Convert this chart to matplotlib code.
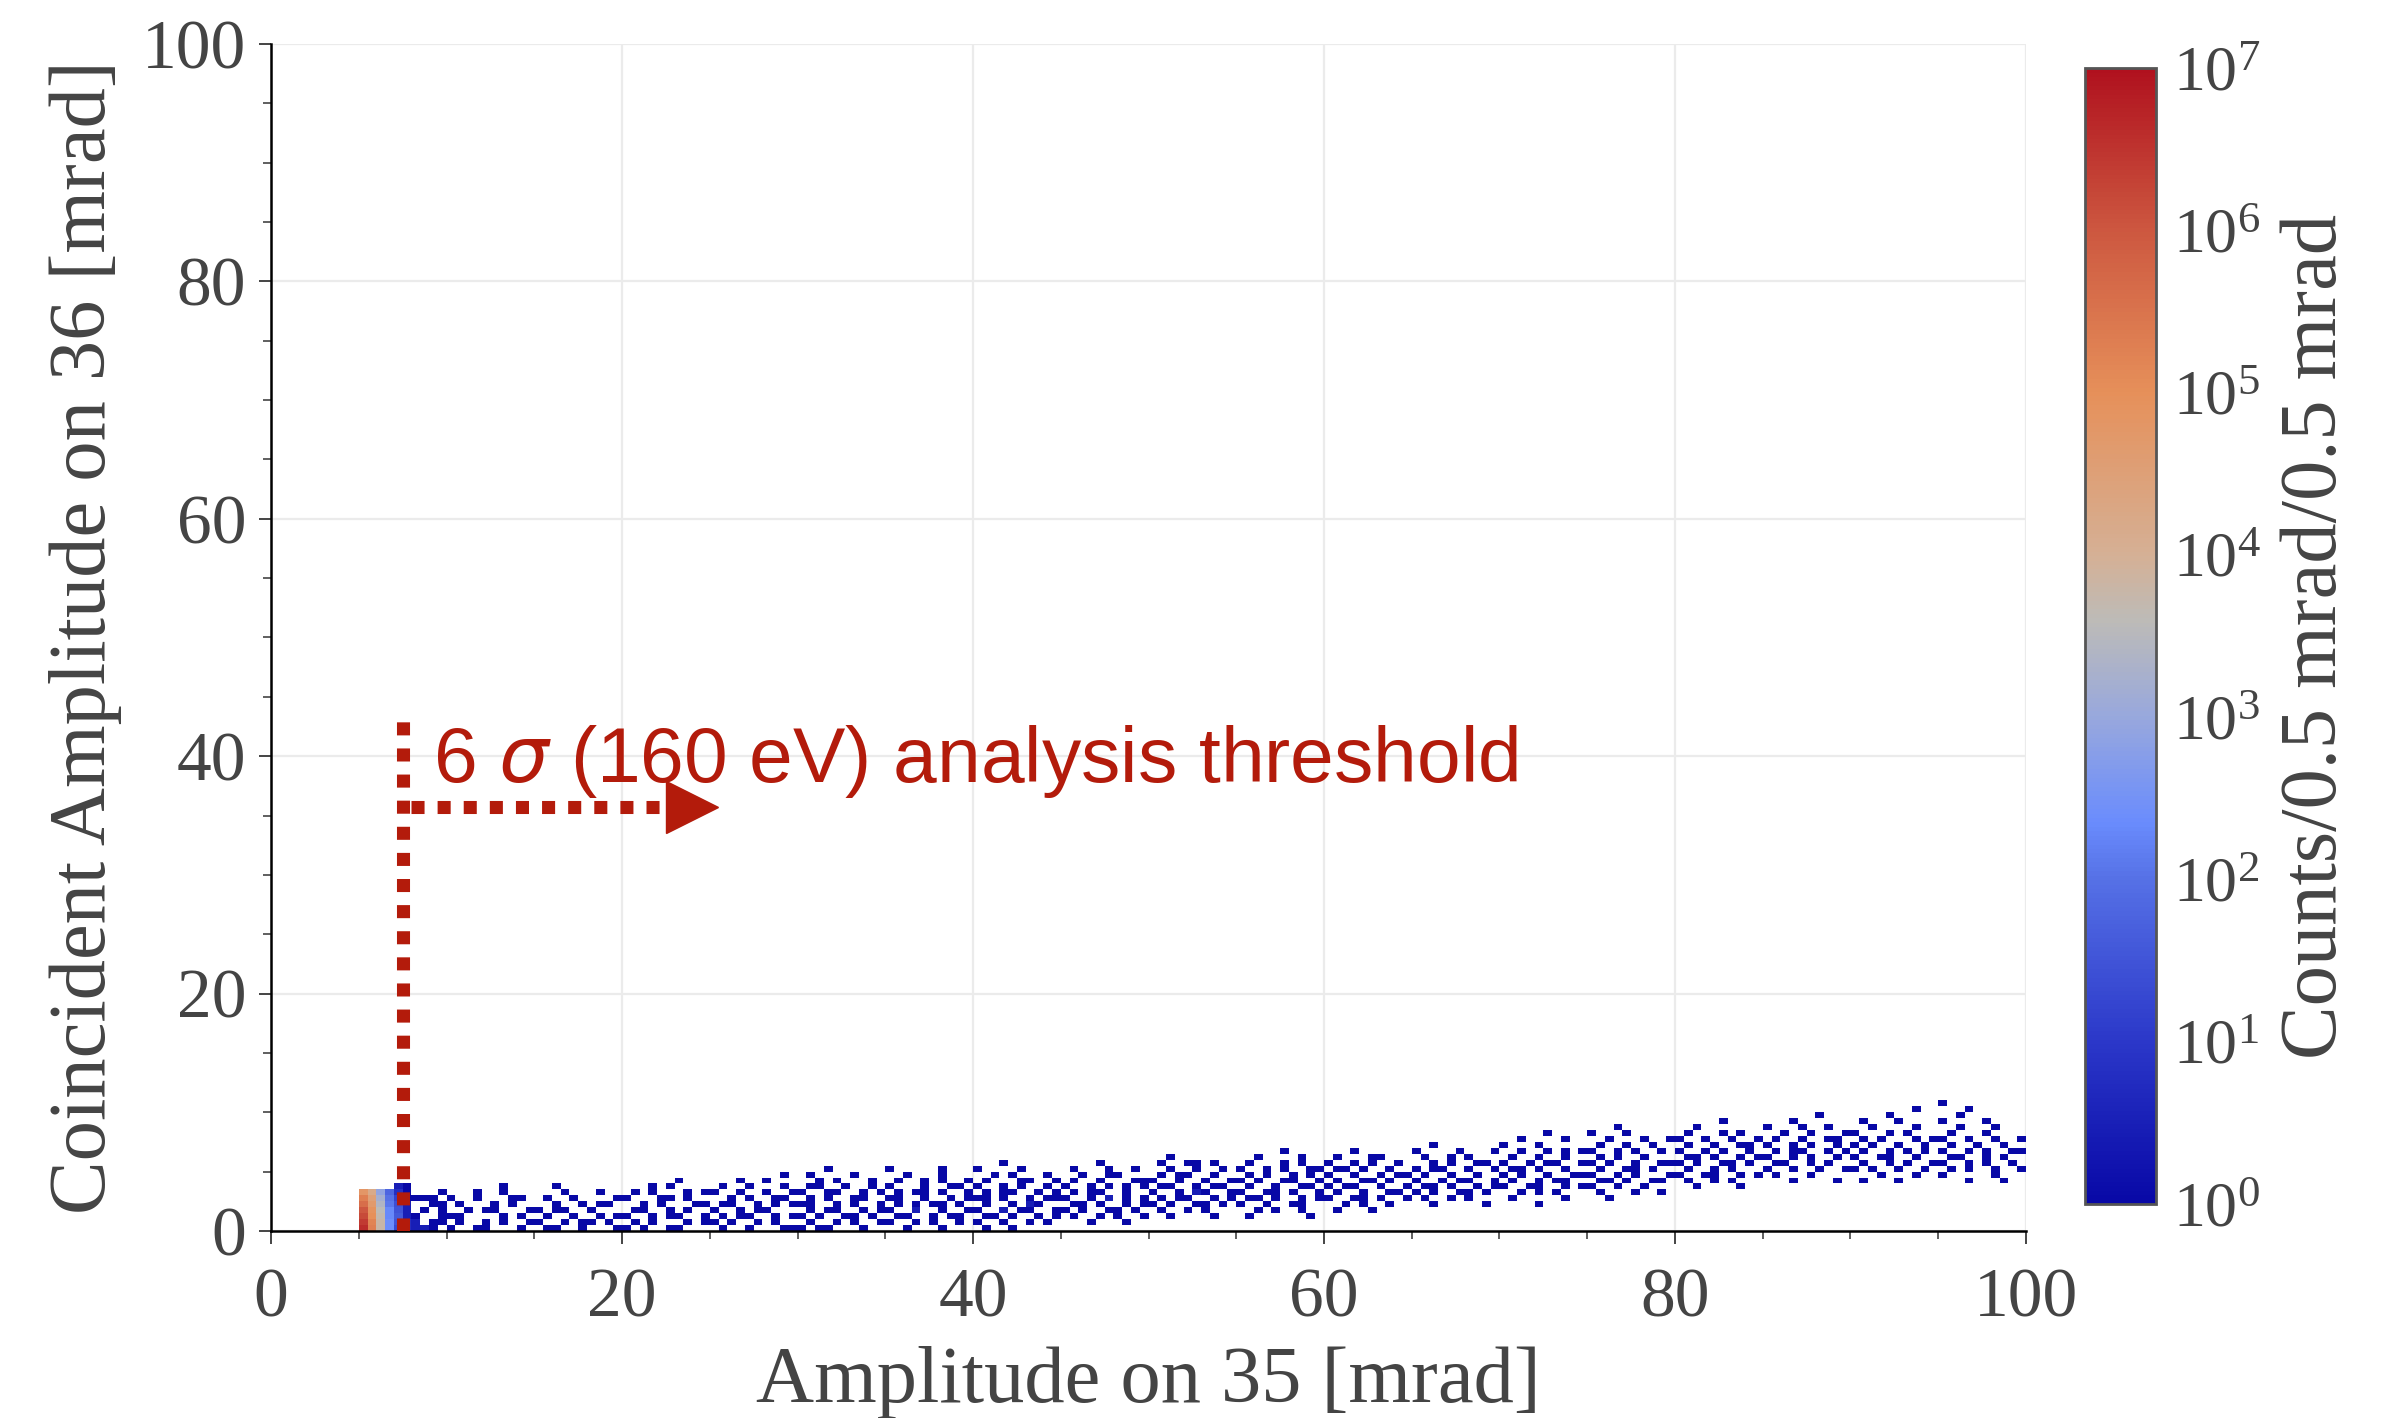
import numpy as np
import matplotlib
matplotlib.use("Agg")
import matplotlib.pyplot as plt
from matplotlib.colors import LinearSegmentedColormap, LogNorm
from matplotlib.ticker import MultipleLocator

# bin width 0.5 mrad on both axes
bin_w = 0.5

# hottest columns near threshold: x bin starts and log10(counts) for y bins 0..6
hot_x = [5.0, 5.5, 6.0, 6.5, 7.0]
hot_log = [
    [6.6, 6.4, 6.2, 6.0, 5.6, 5.3, 4.8],
    [5.3, 5.2, 5.0, 4.9, 4.7, 4.5, 4.2],
    [3.8, 3.8, 3.7, 3.6, 3.4, 3.2, 2.9],
    [2.4, 2.4, 2.3, 2.3, 2.1, 2.0, 1.8],
    [1.3, 1.5, 1.6, 1.5, 1.4, 1.2, 0.8],
]

# band of sparse counts, 19 chunks of 5 mrad starting at x=5
# each chunk: lowest y bin, then rows bottom->top ('.' empty, '1'=1, '2'=3, '3'=6 counts)
band_x0 = 5.0
band_lo = [0, 0, 0, 0, 0, 0, 0, 0, 1, 2, 2, 3, 4, 4, 5, 7, 8, 8, 8]
band_rows = [
    ".....3221./.....32.11/.....21..1/.....2.1.1/.....2..11/.....1111./.....1...1/.....1....",
    "1..11...1./.1..1.1..1/11....1.1./..1.11...1/.1...1.1../1..1...11./...1..1.../......1...",
    ".11..1...1/1..1.11.1./.1..1..1.1/1.11..1.../..1..1.11./.1..1....1/...1...1../..1.......",
    "1.1..11.../.1.1...1.1/1..1.11..1/.11..1.1../..1.1...11/1...11.1../.1.1...1.1/...1.1..../......1...",
    ".1..1...11/1.1..1.1../.1.11..1.1/1..1.11.../.11..1.1.1/..1.1..11./1..1..1..1/.1..1...1./...1..1.../........1.",
    "1.11...1../.1..1.1..1/1.1..11.1./.1.11..1.1/11..1.1..1/.1.1..11../1..11..1.1/.11..1..1./..1.1...1./.1....1.../...1......",
    "..1...1.../1..1.1..1./.11..1.11./1..2..1..1/.1.1.11.1./11..1..1.1/.1.11.1..1/1...1..11./.1..1.1..1/..1...1.../1.....1...",
    ".1..1...../1..1..1.1./.11.1..1.1/1..2.11..1/.1..1.21../11.1..1.11/.1.11..1.1/1..1.1..1./.1...11..1/..1.1...1./1....1..../...1......",
    "...1...1../.1..1.1..1/1.1..11.1./.11.1..1.1/1..1.2.1.1/.1.11..1../1..1.1.1.1/.1..1...11/..1..11.../.1...1..1./....1.....",
    "..1....1../.1..1.1.../1.1..11.1./.1.11..1.1/1..1.21..1/.11..1.11./1..1..1..1/.1.11..1../..1..1..1./.1..11.1../..1.......",
    ".1......1./..1.1..1../1..1..11../.11.1..1.1/1..11.1..1/.1..1..11./1.1..11..1/.1.1..1.1./1..1.1..11/.1...1.1../..1....1../.....1....",
    ".1...1..../..1.1..1../1..11.1..1/.1..1..11./1.11..1..1/.1..11.1../1..1..1.11/.11.1..1../1..1.1..1./.1...11.../...1......",
    "..1.....1./.1..1.1.../1.1..11.1./.11.1..1.1/1..1.11..1/.1..1..1../1.11..1..1/..1.1..11./.1..1.1.../1....1...1/..1.......",
    "....1...../.1.....1../..1.1.1.../1..11..1.1/.1..1.11../1.1..1..11/.11.1..1../1..1.11..1/.1..1..1../..1..1.1.1/1...1...../..1....1../.....1....",
    "..1......./.1...1..1./1..1..1.../.11.1..11./1..1.1...1/.1..11.1../1.1..1..11/.1.1..1.../1..1.1..1./.1..1..1../..1...1..1/1...1...../...1......",
    "..1....1../.1..1.1.../1..11..1.1/.1..1.1.../1.1..11.1./.11.1..1.1/1..1.1..1./.1..1..11./1..1..1..1/.1...1.1../..1......./.....1....",
    "...1....1./.1...1..../1..1..1..1/.11..1.1../1..1.1..1./.1.11..1.1/1..1.1..1./.1..1..11./..1..1...1/1...1..1../...1....../......1...",
    ".1...1..../...1...1../1.1..1..1./.1..1.1..1/1..11..1../.1..1.1.1./1.1..1..1./.1.1...1.1/1...1.1.../..1....1../.1...1..../....1...../.......1..",
    "...1...1../1.....1.../.1.1..1..1/1..1.1..1./.11..1.1../1..1.1..11/.1..1..1../1..1..1..1/.1...1..../..1...1.../1....1..../..1......./...1....../1.........",
]

x_label = "Amplitude on 35 [mrad]"
y_label = "Coincident Amplitude on 36 [mrad]"
cbar_label = "Counts/0.5 mrad/0.5 mrad"
threshold_x = 7.5
threshold_text = "6 $\\sigma$ (160 eV) analysis threshold"

# colours along the log colour scale (fraction of 10^0..10^7)
cmap_pos = [0.0, 1 / 7, 2 / 7, 2.35 / 7, 3 / 7, 3.6 / 7, 4 / 7, 5 / 7, 6 / 7, 1.0]
cmap_col = ["#0808a6", "#2b38c9", "#5671e6", "#6a8cfd", "#98a8dd",
            "#bdbbb7", "#d5b095", "#e6905a", "#cd5840", "#b0111e"]
red = "#b31b0b"
grey = "#444444"

plt.rcParams["font.family"] = ["Liberation Serif", "DejaVu Serif"]
plt.rcParams["mathtext.fontset"] = "custom"
plt.rcParams["mathtext.rm"] = "Liberation Serif"

# ---- build the 2D histogram
edges = np.arange(0, 100 + bin_w / 2, bin_w)
n = len(edges) - 1
H = np.zeros((n, n))
char_val = {"1": 1, "2": 3, "3": 6}
for k, (lo, block) in enumerate(zip(band_lo, band_rows)):
    for r, row in enumerate(block.split("/")):
        for c, ch in enumerate(row):
            if ch in char_val:
                xi = int(round((band_x0 + 5 * k) / bin_w)) + c
                H[xi, lo + r] = char_val[ch]
for xv, logs in zip(hot_x, hot_log):
    xi = int(round(xv / bin_w))
    for yi, lv in enumerate(logs):
        H[xi, yi] = 10 ** lv
H[int(round(7.0 / bin_w)), 7] = 3

Hm = np.ma.masked_where(H <= 0, H)
cmap = LinearSegmentedColormap.from_list("cw", list(zip(cmap_pos, cmap_col)))

fig = plt.figure(figsize=(24.01, 14.18), dpi=100)
ax = fig.add_axes([0.1129, 0.1319, 0.8438 - 0.1129, 0.969 - 0.1319])
cax = fig.add_axes([0.8684, 0.1509, 0.0296, 0.952 - 0.1509])

ax.grid(True, color="#ebebeb", lw=1.6, zorder=0)
ax.set_axisbelow(True)
mesh = ax.pcolormesh(edges, edges, Hm.T, cmap=cmap, norm=LogNorm(1, 1e7), zorder=1)

ax.set_xlim(0, 100)
ax.set_ylim(0, 100)
ax.xaxis.set_major_locator(MultipleLocator(20))
ax.yaxis.set_major_locator(MultipleLocator(20))
ax.xaxis.set_minor_locator(MultipleLocator(5))
ax.yaxis.set_minor_locator(MultipleLocator(5))
for s in ["top", "right"]:
    ax.spines[s].set_visible(False)
for s in ["left", "bottom"]:
    ax.spines[s].set_linewidth(1.8)
ax.tick_params(which="major", length=9, width=1.4, color=grey, labelsize=50,
               labelcolor=grey)
ax.tick_params(axis="x", which="major", pad=18)
ax.tick_params(axis="y", which="major", pad=9)
ax.tick_params(which="minor", length=6, width=1.2, color=grey)
ax.set_xlabel(x_label, fontsize=58, color=grey, labelpad=10)
ax.set_ylabel(y_label, fontsize=58, color=grey, labelpad=14)

# threshold marker
ax.plot([threshold_x, threshold_x], [0, 43.6], color=red, lw=9.4,
        ls=(0, (1, 1)), dash_capstyle="butt", zorder=3)
ax.plot([8.0, 22.45], [35.7, 35.7], color=red, lw=9.4,
        ls=(0, (1, 1)), dash_capstyle="butt", zorder=3)
ax.plot([23.97], [35.7], marker=">", ms=38, color=red, mec=red, zorder=3)
ax.text(9.2, 37.8, threshold_text, color=red, fontsize=56.5,
        family=["Liberation Sans", "DejaVu Sans"], ha="left", va="baseline", zorder=4)

cb = fig.colorbar(mesh, cax=cax)
cb.outline.set_edgecolor("#555555")
cb.outline.set_linewidth(2)
cb.set_ticks([10.0 ** i for i in range(8)])
cax.minorticks_off()
cax.tick_params(length=0, labelsize=46, labelcolor=grey, pad=12)
cb.set_label(cbar_label, fontsize=58, color=grey, labelpad=14)

fig.savefig("out.png", dpi=100)
